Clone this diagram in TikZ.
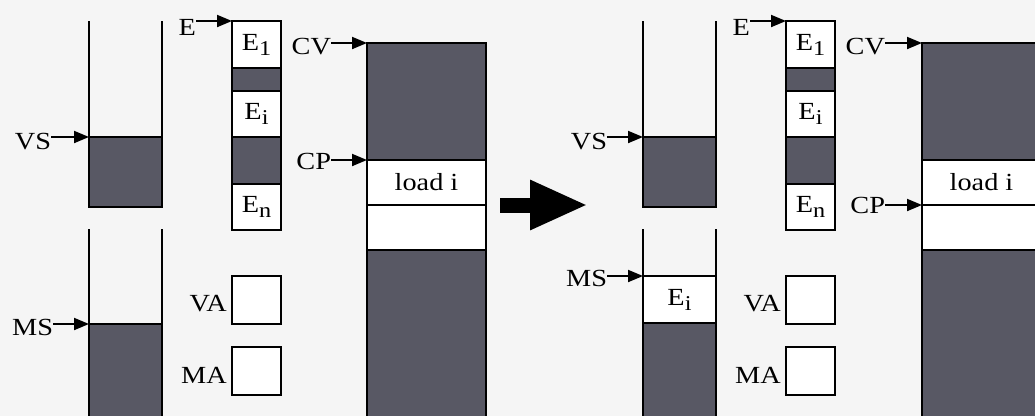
\documentclass[tikz,border=0pt]{standalone}
\usepackage{fontspec}
\setmainfont[FakeStretch=1.15]{Liberation Serif}
\usetikzlibrary{arrows.meta, positioning}
\definecolor{dotgray}{RGB}{88,88,100}
\definecolor{paper}{RGB}{245,245,245}
\newcommand{\idx}[1]{\raisebox{-0.45ex}{\fontsize{12}{12}\selectfont #1}}

\begin{document}
\begin{tikzpicture}[
        x=0.02cm, y=-0.02cm,
        line width=1.1pt,
        font=\fontsize{14}{15}\selectfont,
        cell/.style={rectangle, draw=black, fill=white, inner sep=0pt, outer sep=0pt, minimum height=#1*0.02cm},
        ecell/.style={cell=#1, minimum width=49*0.02cm},
        scell/.style={cell=#1, minimum width=73*0.02cm},
        pcell/.style={cell=#1, minimum width=119*0.02cm},
        shaded/.style={fill=dotgray},
        lbl/.style={inner sep=0pt, outer sep=0pt},
        ptr/.style={-{Triangle[length=0.3cm, width=0.24cm]}, draw=black},
        big/.style={-{Triangle[length=1.16cm, width=0.92cm]}, line width=0.3cm, draw=black}
    ]
    \fill[paper] (0,0) rectangle (1035,416);
    \useasboundingbox (0,0) rectangle (1035,416);
    \clip (0,0) rectangle (1035,416);

    % ---- before ----
    \begin{scope}
        % value stack
        \node[scell=70, shaded, anchor=north west] (aVS) at (89,137) {};
        \draw (89,21) -- (aVS.north west);
        \draw (162,21) -- (aVS.north east);
        \node[lbl, anchor=east] (aVSl) at (51,142) {VS};
        \draw[ptr] (aVSl.east |- aVS.north west) -- (aVS.north west);
        % mark stack
        \node[scell=110, shaded, anchor=north west] (aMS) at (89,324) {};
        \draw (89,229) -- (aMS.north west);
        \draw (162,229) -- (aMS.north east);
        \node[lbl, anchor=east] (aMSl) at (53,327) {MS};
        \draw[ptr] (aMSl.east |- aMS.north west) -- (aMS.north west);
        % environment
        \node[ecell=47, anchor=north west] (aE1) at (232,21) {E\idx{1}};
        \node[ecell=23, shaded, below=0pt of aE1] (aEa) {};
        \node[ecell=46, below=0pt of aEa] (aEi) {E\idx{i}};
        \node[ecell=47, shaded, below=0pt of aEi] (aEb) {};
        \node[ecell=46, below=0pt of aEb] (aEn) {E\idx{n}};
        \node[lbl, anchor=north east] (aEl) at (196,19) {E};
        \draw[ptr] (aEl.east |- aE1.north west) -- (aE1.north west);
        % registers
        \node[ecell=48, anchor=north west] (aVA) at (232,276) {};
        \node[ecell=48, anchor=north west] (aMA) at (232,347) {};
        \node[lbl, left=3pt of aVA, yshift=-0.08cm] (aVAl) {VA};
        \node[lbl, left=3pt of aMA, yshift=-0.08cm] (aMAl) {MA};
        % code
        \node[pcell=117, shaded, anchor=north west] (aC1) at (367,43) {};
        \node[pcell=45, below=0pt of aC1] (aLd) {load i};
        \node[pcell=45, below=0pt of aLd] (aC2) {};
        \node[pcell=190, shaded, below=0pt of aC2] (aC3) {};
        \node[lbl, anchor=east] (aCVl) at (331,47) {CV};
        \node[lbl, anchor=east] (aCPl) at (331,161) {CP};
        \draw[ptr] (aCVl.east |- aC1.north west) -- (aC1.north west);
        \draw[ptr] (aCPl.east |- aLd.north west) -- (aLd.north west);
    \end{scope}

    % transition
    \coordinate (go1) at (500,205);
    \coordinate (go2) at (588,205);
    \draw[big] (go1) -- (go2);

    % ---- after ----
    \begin{scope}[xshift=554*0.02cm]
        % value stack
        \node[scell=70, shaded, anchor=north west] (bVS) at (89,137) {};
        \draw (89,21) -- (bVS.north west);
        \draw (162,21) -- (bVS.north east);
        \node[lbl, anchor=east] (bVSl) at (53,142) {VS};
        \draw[ptr] (bVSl.east |- bVS.north west) -- (bVS.north west);
        % mark stack
        \node[scell=47, anchor=north west] (bMEi) at (89,276) {E\idx{i}};
        \node[scell=110, shaded, below=0pt of bMEi] (bMS) {};
        \draw (89,229) -- (bMEi.north west);
        \draw (162,229) -- (bMEi.north east);
        \node[lbl, anchor=east] (bMSl) at (53,278) {MS};
        \draw[ptr] (bMSl.east |- bMEi.north west) -- (bMEi.north west);
        % environment
        \node[ecell=47, anchor=north west] (bE1) at (232,21) {E\idx{1}};
        \node[ecell=23, shaded, below=0pt of bE1] (bEa) {};
        \node[ecell=46, below=0pt of bEa] (bEi) {E\idx{i}};
        \node[ecell=47, shaded, below=0pt of bEi] (bEb) {};
        \node[ecell=46, below=0pt of bEb] (bEn) {E\idx{n}};
        \node[lbl, anchor=north east] (bEl) at (196,19) {E};
        \draw[ptr] (bEl.east |- bE1.north west) -- (bE1.north west);
        % registers
        \node[ecell=48, anchor=north west] (bVA) at (232,276) {};
        \node[ecell=48, anchor=north west] (bMA) at (232,347) {};
        \node[lbl, left=3pt of bVA, yshift=-0.08cm] (bVAl) {VA};
        \node[lbl, left=3pt of bMA, yshift=-0.08cm] (bMAl) {MA};
        % code
        \node[pcell=117, shaded, anchor=north west] (bC1) at (368,43) {};
        \node[pcell=45, below=0pt of bC1] (bLd) {load i};
        \node[pcell=45, below=0pt of bLd] (bC2) {};
        \node[pcell=190, shaded, below=0pt of bC2] (bC3) {};
        \node[lbl, anchor=east] (bCVl) at (331,47) {CV};
        \node[lbl, anchor=east] (bCPl) at (331,205) {CP};
        \draw[ptr] (bCVl.east |- bC1.north west) -- (bC1.north west);
        \draw[ptr] (bCPl.east |- bC2.north west) -- (bC2.north west);
    \end{scope}
\end{tikzpicture}
\end{document}
